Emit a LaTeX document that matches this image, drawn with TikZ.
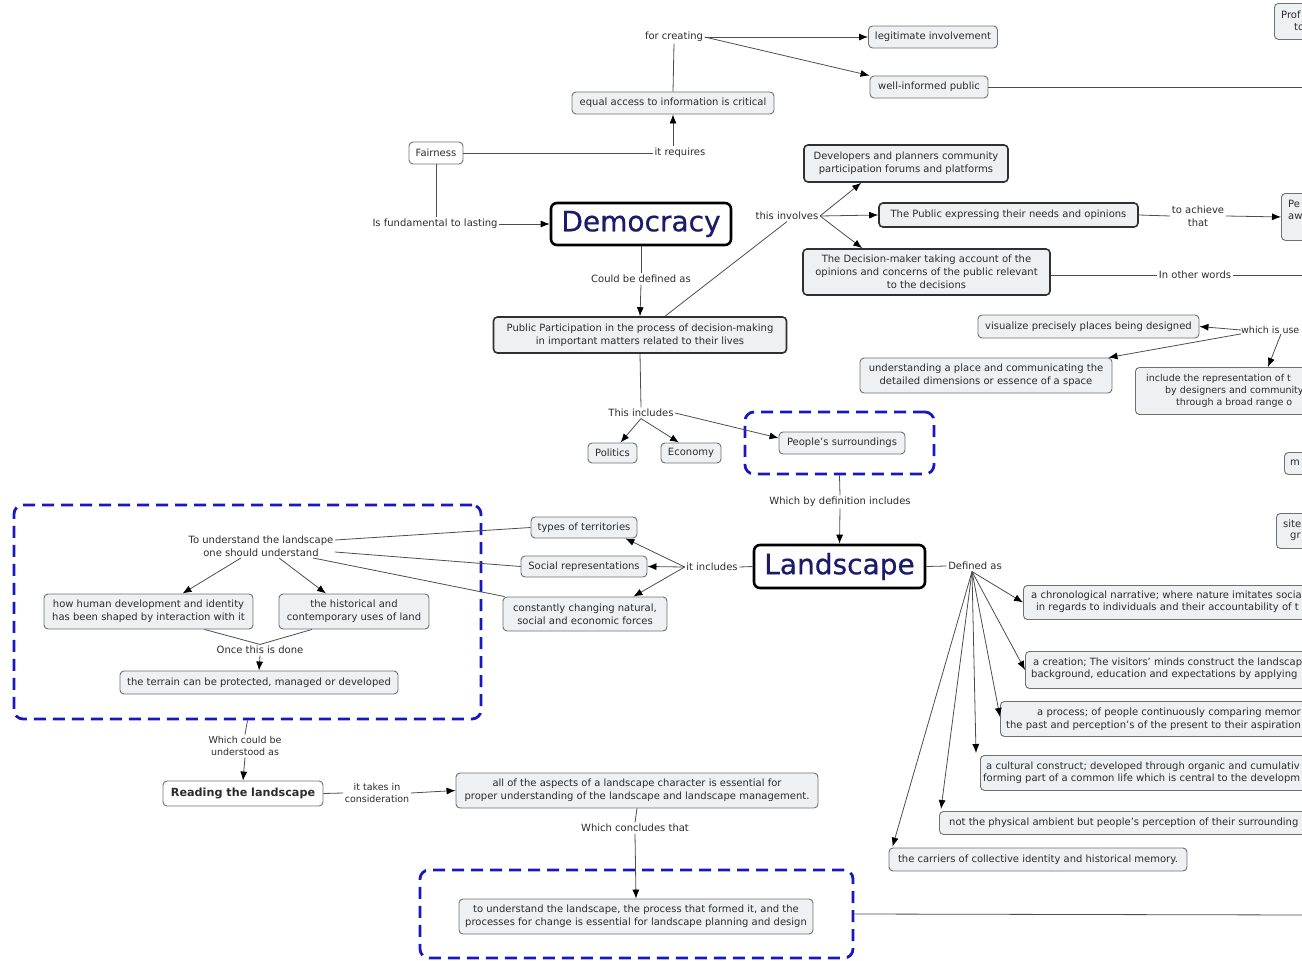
\documentclass[tikz,border=0pt]{standalone}
\usepackage{fontspec}
\setmainfont{DejaVu Sans}
\newfontfamily\bigfont[FakeBold=0.6]{DejaVu Sans}
\usetikzlibrary{arrows.meta,calc}
\definecolor{boxfill}{HTML}{EDF1F4}
\definecolor{bord}{HTML}{707070}
\definecolor{bordd}{HTML}{303030}
\definecolor{txt}{HTML}{2B2B2B}
\definecolor{lin}{HTML}{4D4D4D}
\definecolor{dblue}{HTML}{1818C0}
\definecolor{navy}{HTML}{1B1B6B}
\tikzset{
 base/.style={font=\fontsize{10}{12.8}\selectfont, text=txt, align=center},
 box/.style={base, draw=bord, fill=boxfill, rounded corners=4pt, line width=0.9pt, inner xsep=5pt, inner ysep=3pt},
 boxd/.style={box, draw=bordd, line width=1.6pt},
 big/.style={draw=black, line width=2.6pt, fill=white, rounded corners=6pt, font=\bigfont\fontsize{28}{30}\selectfont, text=navy},
 lbl/.style={base, inner sep=1.5pt},
 conn/.style={draw=lin, line width=0.8pt},
 arr/.style={conn, -{Latex[length=9pt,width=7pt,color=black]}},
 dbox/.style={draw=dblue, line width=2.8pt, dash pattern=on 12pt off 7pt, rounded corners=9pt, inner sep=0pt},
 ctext/.style={base, anchor=west, inner sep=0pt, align=left},
 ctsm/.style={ctext, font=\fontsize{9.5}{12}\selectfont},
}
\begin{document}
\begin{tikzpicture}[x=1pt,y=-1pt]
\useasboundingbox (0,0) rectangle (1302,961);
\clip (0,0) rectangle (1302,961);
% ---------- top ----------
\node[lbl] (forc) at (674,37) {for creating};
\node[box, minimum width=129pt, minimum height=22pt] (legit) at (933,37) {legitimate involvement};
\node[box, minimum width=118pt, minimum height=22pt] (wip) at (929,87) {well-informed public};
\node[box, minimum width=202pt, minimum height=22pt] (equal) at (673,103) {equal access to information is critical};
\node[box, fill=white, minimum width=54pt, minimum height=22pt] (fair) at (436,153) {Fairness};
\node[lbl] (itreq) at (680,153) {it requires};
\node[lbl] (isfund) at (435,224) {Is fundamental to lasting};
\node[big, minimum width=180pt, minimum height=42pt] (demo) at (641,224) {Democracy};
\node[lbl] (could) at (641,279) {Could be defined as};
\node[boxd, minimum width=293pt, minimum height=36pt] (pp) at (640,335) {Public Participation in the process of decision-making\\in important matters related to their lives};
\node[lbl] (thisinv) at (787,216) {this involves};
\node[boxd, minimum width=204pt, minimum height=37pt] (dev) at (906,163.5) {Developers and planners community\\participation forums and platforms};
\node[boxd, minimum width=259pt, minimum height=24pt] (pub) at (1008.5,215) {The Public expressing their needs and opinions};
\node[boxd, minimum width=247pt, minimum height=46pt] (dm) at (926.5,272) {The Decision-maker taking account of the\\opinions and concerns of the public relevant\\to the decisions};
\node[lbl] (toach) at (1198,216) {to achieve\\that};
\node[lbl] (inother) at (1195,275) {In other words};
\node[box, anchor=north west, minimum width=70pt, minimum height=47pt] (pe) at (1281,193) {};
\node[ctext] (pet1) at (1288,204) {Pe};
\node[ctext] (pet2) at (1288,217) {aw};
\node[box, anchor=north west, minimum width=70pt, minimum height=36pt] (prof) at (1274,3) {};
\node[ctext] (proft1) at (1281,15) {Prof};
\node[ctext] (proft2) at (1294,27) {to};
\coordinate (eA) at (1310,87);
\coordinate (eB) at (1310,275);
% ---------- which is used ----------
\node[ctsm] (which) at (1241,330) {which is use};
\node[box, minimum width=221pt, minimum height=23pt] (vis) at (1088.5,326.5) {visualize precisely places being designed};
\node[box, minimum width=252pt, minimum height=35pt] (und) at (986,375.5) {understanding a place and communicating the\\detailed dimensions or essence of a space};
\node[box, anchor=north west, minimum width=220pt, minimum height=47pt] (incl) at (1135,367) {};
\node[ctsm] (inclt1) at (1146,379) {include the representation of t};
\node[ctsm] (inclt2) at (1165,391) {by designers and community};
\node[ctsm] (inclt3) at (1176,403) {through a broad range o};
\node[box, anchor=north west, minimum width=60pt, minimum height=22pt] (mbox) at (1284,452) {};
\node[ctext] (mt) at (1290,463) {m};
\node[box, anchor=north west, minimum width=60pt, minimum height=35pt] (site) at (1276,513) {};
\node[ctext] (sitet1) at (1283,524) {site};
\node[ctext] (sitet2) at (1290,537) {gr};
% ---------- middle ----------
\node[lbl] (thisincl) at (641,413) {This includes};
\node[box, minimum width=49pt, minimum height=20pt] (pol) at (612.5,453) {Politics};
\node[box, minimum width=60pt, minimum height=20pt] (econ) at (691,453) {Economy};
\node[box, minimum width=126pt, minimum height=22pt] (peop) at (842,443) {People's surroundings};
\node[dbox, minimum width=189pt, minimum height=62pt] (d1) at (839.5,443) {};
\node[lbl] (whichdef) at (840,502) {Which by definition includes};
\node[big, minimum width=171pt, minimum height=43pt] (land) at (839.5,566.5) {Landscape};
\node[lbl] (itincl) at (712,567) {it includes};
\node[box, minimum width=106pt, minimum height=21pt] (types) at (584,527.5) {types of territories};
\node[box, minimum width=126pt, minimum height=21pt] (soc) at (584,566.5) {Social representations};
\node[box, minimum width=164pt, minimum height=34pt] (const) at (585,614) {constantly changing natural,\\social and economic forces};
\node[lbl] (tounder) at (261,546) {To understand the landscape\\one should understand};
\node[box, minimum width=209pt, minimum height=35pt] (human) at (148.5,611.5) {how human development and identity\\has been shaped by interaction with it};
\node[box, minimum width=150pt, minimum height=35pt] (hist) at (354,611.5) {the historical and\\contemporary uses of land};
\node[lbl] (once) at (260,650) {Once this is done};
\node[box, minimum width=278pt, minimum height=23pt] (terr) at (259,682.5) {the terrain can be protected, managed or developed};
\node[dbox, minimum width=467pt, minimum height=214pt] (d2) at (247.5,612) {};
\node[lbl, font=\fontsize{9.5}{12}\selectfont] (whichcould) at (245,746) {Which could be\\understood as};
\node[box, fill=white, font=\fontsize{11.2}{13}\selectfont\bfseries, minimum width=160pt, minimum height=25pt] (read) at (243,793.5) {Reading the landscape};
\node[lbl, font=\fontsize{9.5}{12}\selectfont] (takes) at (377,793) {it takes in\\consideration};
\node[box, minimum width=362pt, minimum height=35pt] (allasp) at (637,790.5) {all of the aspects of a landscape character is essential for\\proper understanding of the landscape and landscape management.};
\node[lbl] (concl) at (635,828) {Which concludes that};
\node[box, minimum width=354pt, minimum height=35pt] (tound) at (636,916.5) {to understand the landscape, the process that formed it, and the\\processes for change is essential for landscape planning and design};
\node[dbox, minimum width=433pt, minimum height=88pt] (d3) at (636.5,914) {};
\coordinate (eC) at (1310,915);
% ---------- defined as ----------
\node[lbl] (defas) at (975,566) {Defined as};
\node[box, anchor=north west, minimum width=320pt, minimum height=34pt] (chrono) at (1023,585) {};
\node[ctext] (chrt1) at (1031,596) {a chronological narrative; where nature imitates socia};
\node[ctext] (chrt2) at (1036,608) {in regards to individuals and their accountability of t};
\node[box, anchor=north west, minimum width=320pt, minimum height=37pt] (creat) at (1025,651) {};
\node[ctext] (crt1) at (1033,663) {a creation; The visitors' minds construct the landscap};
\node[ctext] (crt2) at (1031,675) {background, education and expectations by applying};
\node[box, anchor=north west, minimum width=340pt, minimum height=35pt] (proc) at (1000,701) {};
\node[ctext] (prt1) at (1037,713) {a process; of people continuously comparing memor};
\node[ctext] (prt2) at (1006,726) {the past and perception's of the present to their aspiration};
\node[box, anchor=north west, minimum width=360pt, minimum height=35pt] (cult) at (980,755) {};
\node[ctext] (cut1) at (986,767) {a cultural construct; developed through organic and cumulativ};
\node[ctext] (cut2) at (983,779) {forming part of a common life which is central to the developm};
\node[box, anchor=north west, minimum width=400pt, minimum height=23pt] (notp) at (939,811) {};
\node[ctext] (npt) at (949,823) {not the physical ambient but people's perception of their surrounding};
\node[box, minimum width=298pt, minimum height=23pt] (carr) at (1038,859.5) {the carriers of collective identity and historical memory.};
% ---------- connectors ----------
\draw[conn] (equal.north) -- (forc.south);
\draw[arr] (forc.east) -- (legit.west);
\draw[arr] (forc.east) -- (wip.north west);
\draw[conn] (wip.east) -- (eA);
\draw[conn] (fair.east) -- (itreq.west);
\draw[arr] (itreq.north -| equal.south) -- (equal.south);
\draw[conn] (fair.south) -- (isfund.north -| fair.south);
\draw[arr] (isfund.east) -- (demo.west);
\draw[conn] (demo.south) -- (could.north);
\draw[arr] (could.south) -- (pp.north);
\draw[conn] ([xshift=25pt]pp.north) -- (thisinv.south);
\draw[arr] (thisinv.east) -- ([xshift=58pt]dev.south west);
\draw[arr] (thisinv.east) -- (pub.west);
\draw[arr] (thisinv.east) -- ([xshift=60pt]dm.north west);
\draw[conn] (pub.east) -- (toach.west);
\draw[arr] (toach.east) -- (pe.west);
\draw[conn] (inother.west -| dm.east) -- (inother.west);
\draw[conn] (inother.east) -- (eB);
\draw[arr] (which.west) -- (vis.east);
\draw[arr] (which.south west) -- ([xshift=-4pt]und.north east);
\draw[arr] ([xshift=40pt]which.south west) -- ([xshift=133pt]incl.north west);
\draw[conn] (pp.south) -- (thisincl.north);
\draw[arr] (thisincl.south) -- ([xshift=8pt]pol.north);
\draw[arr] (thisincl.south) -- ([xshift=-12pt]econ.north);
\draw[arr] (thisincl.east) -- ([yshift=5pt]peop.west);
\draw[conn] (d1.south) -- (whichdef.north);
\draw[arr] (whichdef.south) -- (land.north);
\draw[conn] (land.west) -- (itincl.east);
\draw[arr] (itincl.west) -- (soc.east);
\draw[arr] (itincl.west) -- ([xshift=-12pt]types.south east);
\draw[arr] (itincl.west) -- ([xshift=-34pt]const.north east);
\draw[conn] ([yshift=6pt]tounder.east) -- (types.west);
\draw[conn] ([yshift=-6pt]tounder.east) -- (soc.west);
\draw[conn] ([xshift=-22pt]tounder.south east) -- ([xshift=2pt]const.north west);
\draw[arr] ([xshift=-20pt]tounder.south) -- ([xshift=34pt]human.north);
\draw[arr] ([xshift=18pt]tounder.south) -- ([xshift=-28pt]hist.north);
\draw[conn] ([xshift=56pt]human.south) -- (once.north);
\draw[conn] ([xshift=-42pt]hist.south) -- (once.north);
\draw[arr] (once.south) -- (terr.north);
\draw[conn] (d2.south) -- (whichcould.north);
\draw[arr] (whichcould.south) -- (read.north);
\draw[conn] (read.east) -- (takes.west);
\draw[arr] (takes.east) -- (allasp.west);
\draw[conn] (allasp.south) -- (concl.north);
\draw[arr] (concl.south) -- (tound.north);
\draw[conn] (d3.east) -- (eC);
\draw[conn] (land.east) -- (defas.west);
\draw[arr] ([xshift=-3pt]defas.south) -- (chrono.west);
\draw[arr] ([xshift=-3pt]defas.south) -- (creat.west);
\draw[arr] ([xshift=-3pt]defas.south) -- ([yshift=2pt]proc.west);
\draw[arr] ([xshift=-3pt]defas.south) -- ([xshift=-4pt,yshift=2pt]cult.north west);
\draw[arr] ([xshift=-3pt]defas.south) -- ([xshift=2pt,yshift=2pt]notp.north west);
\draw[arr] ([xshift=-3pt]defas.south) -- ([xshift=4pt,yshift=1pt]carr.north west);
\end{tikzpicture}
\end{document}
